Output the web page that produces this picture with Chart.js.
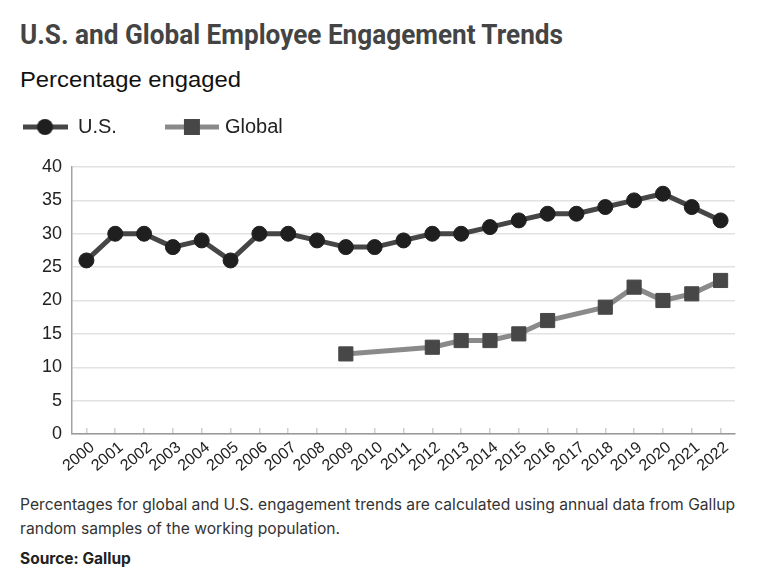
<!DOCTYPE html>
<html>
<head>
<meta charset="utf-8">
<script src="https://cdn.jsdelivr.net/npm/chart.js@4.4.1/dist/chart.umd.min.js"></script>
<style>
  html, body { margin: 0; padding: 0; background: #fff; width: 784px; height: 584px; overflow: hidden; position: relative; }
  .txt { position: absolute; left: 20px; white-space: nowrap; transform-origin: 0 0; }
  #title { top: 22px; font: bold 27px Roboto, sans-serif; line-height: 27px; color: #444; }
  #subtitle { top: 69px; font: 22px "Liberation Sans", Arial, sans-serif; line-height: 22px; color: #111; }
  #note { top: 493px; font: 15.5px Inter, sans-serif; line-height: 24px; color: #333; }
  #source { top: 547px; font: bold 15.5px Inter, sans-serif; line-height: 24px; color: #222; }
  #wrap { position: absolute; left: -30px; top: 65px; width: 814px; height: 410px; }
</style>
</head>
<body>
<div id="title" class="txt">U.S. and Global Employee Engagement Trends</div>
<div id="subtitle" class="txt">Percentage engaged</div>
<div id="wrap"><canvas id="engagementChart"></canvas></div>
<div id="note" class="txt"><span id="noteLine1">Percentages for global and U.S. engagement trends are calculated using annual data from Gallup</span><br>random samples of the working population.</div>
<div id="source" class="txt">Source: Gallup</div>

<script>
// data
const years = ['2000', '2001', '2002', '2003', '2004', '2005', '2006', '2007', '2008', '2009', '2010',
    '2011', '2012', '2013', '2014', '2015', '2016', '2017', '2018', '2019', '2020', '2021', '2022'];
const usEngaged = [26, 30, 30, 28, 29, 26, 30, 30, 29, 28, 28, 29, 30, 30, 31, 32, 33, 33, 34, 35, 36, 34, 32];
const globalEngaged = [null, null, null, null, null, null, null, null, null, 12, null, null,
    13, 14, 14, 15, 17, null, 19, 22, 20, 21, 23];
const yTicks = [0, 5, 10, 15, 20, 25, 30, 35, 40];

const usLine = '#464646', usDot = '#1f1f1f';
const globalLine = '#8a8a8a', globalDot = '#474747';

// squeeze html text to the widths seen in the reference
function fitWidth(el, measureEl, target) {
    const w = measureEl.getBoundingClientRect().width;
    if (w > 0) el.style.transform = 'scaleX(' + (target / w) + ')';
}
fitWidth(document.getElementById('title'), document.getElementById('title'), 543);
fitWidth(document.getElementById('subtitle'), document.getElementById('subtitle'), 221);
fitWidth(document.getElementById('note'), document.getElementById('noteLine1'), 715);

// legend swatch: line with the marker in the middle
function makeSwatch(width, lineColor, dotColor, shape) {
    const c = document.createElement('canvas');
    c.width = width;
    c.height = 18;
    const ctx = c.getContext('2d');
    ctx.strokeStyle = lineColor;
    ctx.lineWidth = 5;
    ctx.beginPath();
    ctx.moveTo(0, 9);
    ctx.lineTo(width, 9);
    ctx.stroke();
    ctx.fillStyle = dotColor;
    if (shape === 'circle') {
        ctx.beginPath();
        ctx.arc(width / 2, 9, 8, 0, Math.PI * 2);
        ctx.fill();
    } else {
        ctx.fillRect(width / 2 - 8, 1, 16, 16);
    }
    return c;
}
const usSwatch = makeSwatch(45, usLine, usDot, 'circle');
const globalSwatch = makeSwatch(54, globalLine, globalDot, 'rect');

// extra room between legend and plot
const legendSpacer = {
    id: 'legendSpacer',
    beforeUpdate(chart) {
        const legend = chart.legend;
        if (legend && !legend._spaced) {
            const fit = legend.fit;
            legend.fit = function () {
                fit.call(this);
                this.height += 20;
            };
            legend._spaced = true;
        }
    }
};

const chartFont = '"Liberation Sans", Arial, sans-serif';

new Chart(document.getElementById('engagementChart').getContext('2d'), {
    type: 'line',
    data: {
        labels: years,
        datasets: [{
            label: 'U.S.',
            data: usEngaged,
            borderColor: usLine,
            borderWidth: 5,
            pointStyle: 'circle',
            pointRadius: 7.5,
            pointBackgroundColor: usDot,
            pointBorderColor: usDot,
            pointBorderWidth: 1,
            tension: 0
        }, {
            label: 'Global',
            data: globalEngaged,
            spanGaps: true,
            borderColor: globalLine,
            borderWidth: 5,
            pointStyle: 'rect',
            pointRadius: 10,
            pointBackgroundColor: globalDot,
            pointBorderColor: globalDot,
            pointBorderWidth: 1,
            tension: 0
        }]
    },
    options: {
        responsive: true,
        maintainAspectRatio: false,
        animation: false,
        layout: { padding: { left: 0, right: 49, top: 0, bottom: 0 } },
        scales: {
            x: {
                offset: true,
                grid: { drawOnChartArea: false, drawTicks: true, tickLength: -6, color: '#cfcfcf', lineWidth: 1.5 },
                border: { display: true, color: '#999', width: 1.5 },
                ticks: {
                    autoSkip: false,
                    minRotation: 40,
                    maxRotation: 40,
                    padding: 10,
                    labelOffset: 6,
                    color: '#222',
                    font: { family: chartFont, size: 16 }
                },
                afterFit: function (scale) { scale.height = 41; }
            },
            y: {
                min: yTicks[0],
                max: yTicks[yTicks.length - 1],
                afterBuildTicks: function (scale) { scale.ticks = yTicks.map(v => ({ value: v })); },
                grid: { drawTicks: false, color: '#e2e2e2', lineWidth: 1.5 },
                border: { display: true, color: '#a3a3a3', width: 1.5 },
                ticks: {
                    padding: 10,
                    color: '#222',
                    font: { family: chartFont, size: 18 }
                },
                afterFit: function (scale) { scale.width = 102; }
            }
        },
        plugins: {
            legend: {
                position: 'top',
                align: 'start',
                labels: {
                    usePointStyle: true,
                    pointStyleWidth: 46,
                    padding: 52,
                    color: '#222',
                    font: { family: chartFont, size: 20 },
                    generateLabels: function (chart) {
                        return chart.data.datasets.map((ds, i) => ({
                            text: ds.label,
                            datasetIndex: i,
                            pointStyle: i === 0 ? usSwatch : globalSwatch,
                            fillStyle: ds.borderColor,
                            strokeStyle: ds.borderColor,
                            lineWidth: 0,
                            fontColor: '#222',
                            hidden: false
                        }));
                    }
                }
            },
            tooltip: { enabled: false }
        }
    },
    plugins: [legendSpacer]
});
</script>
</body>
</html>
